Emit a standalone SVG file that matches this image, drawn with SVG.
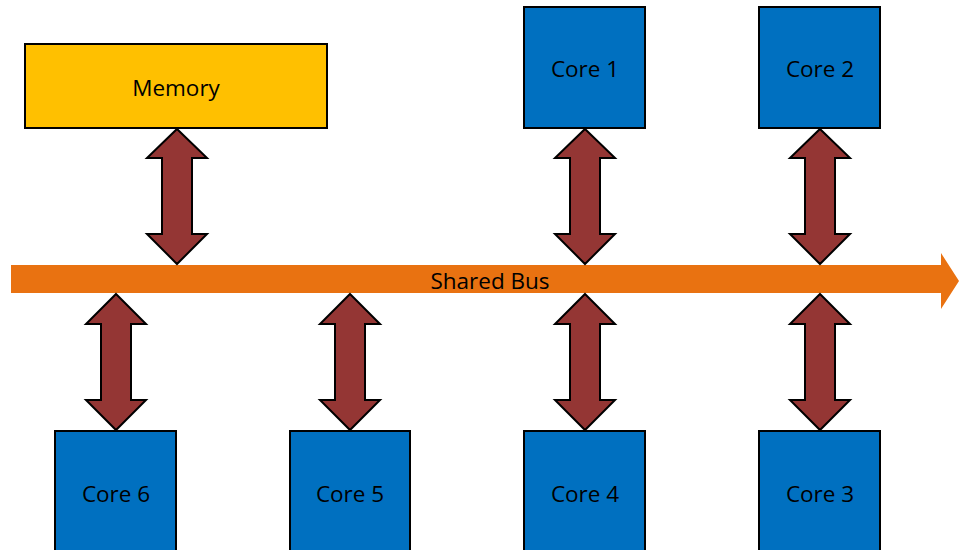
<svg xmlns="http://www.w3.org/2000/svg" width="959" height="550" viewBox="0 0 959 550">
<style>
.box{stroke:#000;stroke-width:2}
.core{fill:#0070C0}
.mem{fill:#FFC000}
.arr{fill:#943634;stroke:#000;stroke-width:2;stroke-linejoin:miter}
text{font-family:"Open Sans","Liberation Sans",sans-serif;font-size:22.5px;fill:#000;text-anchor:middle;dominant-baseline:central}
</style>
<defs>
<path id="dbl" d="M0,0 L30,29 L15,29 L15,105 L30,105 L0,135 L-30,105 L-15,105 L-15,29 L-30,29 Z"/>
<path id="dbl2" d="M0,0 L30,30 L15,30 L15,106 L30,106 L0,136 L-30,106 L-15,106 L-15,30 L-30,30 Z"/>
</defs>
<rect width="959" height="550" fill="#fff"/>
<g id="bus">
<path d="M11,265 L941,265 L941,253 L959,281 L941,309 L941,293 L11,293 Z" fill="#E97211"/>
<text x="490" y="280">Shared Bus</text>
</g>
<g id="connectors">
<use href="#dbl" class="arr" x="177" y="129"/>
<use href="#dbl" class="arr" x="585" y="129"/>
<use href="#dbl" class="arr" x="820" y="129"/>
<use href="#dbl2" class="arr" x="116" y="294"/>
<use href="#dbl2" class="arr" x="350" y="294"/>
<use href="#dbl2" class="arr" x="585" y="294"/>
<use href="#dbl2" class="arr" x="820" y="294"/>
</g>
<g id="memory"><rect class="box mem" x="25" y="44" width="302" height="84"/><text x="176" y="87">Memory</text></g>
<g id="core1"><rect class="box core" x="524" y="7" width="121" height="121"/><text x="585" y="68">Core 1</text></g>
<g id="core2"><rect class="box core" x="759" y="7" width="121" height="121"/><text x="820" y="68">Core 2</text></g>
<g id="core6"><rect class="box core" x="55" y="431" width="121" height="125"/><text x="116" y="493">Core 6</text></g>
<g id="core5"><rect class="box core" x="290" y="431" width="120" height="125"/><text x="350" y="493">Core 5</text></g>
<g id="core4"><rect class="box core" x="524" y="431" width="121" height="125"/><text x="585" y="493">Core 4</text></g>
<g id="core3"><rect class="box core" x="759" y="431" width="121" height="125"/><text x="820" y="493">Core 3</text></g>
</svg>
